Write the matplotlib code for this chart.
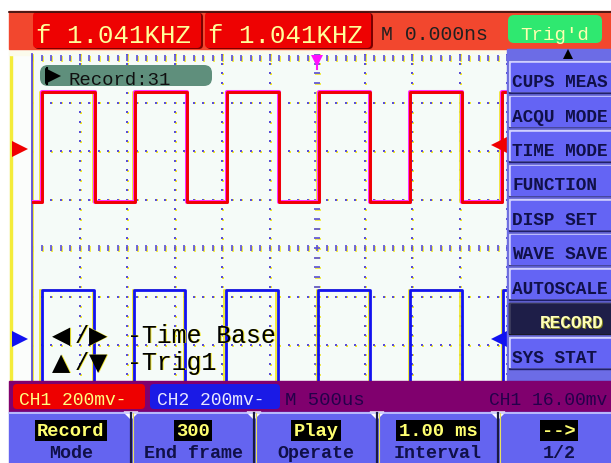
import matplotlib
matplotlib.use("Agg")
import matplotlib.pyplot as plt
import matplotlib.transforms as mtransforms
from matplotlib.patches import Rectangle, FancyBboxPatch, Polygon
import numpy as np

# ---------------- data ----------------
time_per_div_ms = 0.5
volt_per_div_mv = 200
x_divs = 12
y_divs = 8

ch1_edges_ms = [-2.895, -2.337, -1.916, -1.368, -0.947, -0.400, 0.021, 0.558, 0.979, 1.526, 1.947, 2.49]
ch1_levels_mv = [190, 643]          # low, high (screen position)
ch2_edges_ms = [-2.895, -2.347, -1.926, -1.389, -0.958, -0.411, 0.011, 0.558, 0.979, 1.526, 1.958, 2.50]
ch2_levels_mv = [-620, -173]
ch1_offset_mv = 408
ch2_offset_mv = -375
ch1_trig_level_mv = 16
trig_time_ms = 0.0

freq_labels = ["f 1.041KHZ", "f 1.041KHZ"]
delay_label = "M 0.000ns"
trig_status = "Trig'd"
side_menu = ["CUPS MEAS", "ACQU MODE", "TIME MODE", "FUNCTION", "DISP SET",
             "WAVE SAVE", "AUTOSCALE", "RECORD", "SYS STAT"]
side_selected = "RECORD"
bottom_top = ["Record", "300", "Play", "1.00 ms", "-->"]
bottom_bot = ["Mode", "End frame", "Operate", "Interval", "1/2"]
record_label = "Record:31"
status_ch1 = "CH1 200mv-"
status_ch2 = "CH2 200mv-"
status_time = "M 500us"
status_trig = "CH1 16.00mv"

# ---------------- figure ----------------
W, H, DPI = 611, 464, 100
fig = plt.figure(figsize=(W / DPI, H / DPI), dpi=DPI, facecolor="white")
MONO = ["Liberation Mono", "DejaVu Sans Mono"]

# background axes (pixel coords)
bg = fig.add_axes([0, 0, 1, 1], zorder=0)
bg.set_xlim(0, W); bg.set_ylim(H, 0); bg.axis("off")
bg.add_patch(Rectangle((9, 50), 23, 332, color="#fbfdfb"))
bg.add_patch(Rectangle((10, 50), 1.6, 332, color="#f4ec3a"))
bg.add_patch(Rectangle((9, 50), 500, 6, color="#fbfbec"))

# main graticule axes
gx0, gx1, gy0, gy1 = 32, 602, 55, 443
ax = fig.add_axes([gx0 / W, 1 - gy1 / H, (gx1 - gx0) / W, (gy1 - gy0) / H], zorder=1)
ax.set_facecolor("#f5fbf8")
xmax = x_divs / 2 * time_per_div_ms
ymax = y_divs / 2 * volt_per_div_mv
ax.set_xlim(-xmax, xmax); ax.set_ylim(-ymax, ymax)
for s in ax.spines.values():
    s.set_visible(False)
ax.set_xticks([]); ax.set_yticks([])

sh = mtransforms.offset_copy(ax.transData, fig=fig, x=1.2, y=-0.6, units="dots")
shl = mtransforms.offset_copy(ax.transData, fig=fig, x=-1.5, y=0, units="dots")
dotc = "#5a4fd6"; yel = "#f0e830"

# dotted grid
xs_minor = np.arange(-xmax, xmax + 1e-9, time_per_div_ms / 5)
ys_minor = np.arange(-ymax, ymax + 1e-9, volt_per_div_mv / 5)
for k in range(1, x_divs):
    xv = -xmax + k * time_per_div_ms
    if abs(xv) < 1e-9:
        continue
    for tr, c in ((sh, yel), (ax.transData, dotc)):
        ax.plot(np.full_like(ys_minor, xv), ys_minor, ls="none", marker="s",
                ms=1.5, mew=0, color=c, transform=tr)
for k in range(1, y_divs):
    yv = -ymax + k * volt_per_div_mv
    if abs(yv) < 1e-9:
        continue
    for tr, c in ((sh, yel), (ax.transData, dotc)):
        ax.plot(xs_minor, np.full_like(xs_minor, yv), ls="none", marker="s",
                ms=1.5, mew=0, color=c, transform=tr)
# center lines with dashes
for tr, c in ((sh, yel), (ax.transData, dotc)):
    ax.plot(np.zeros_like(ys_minor), ys_minor, ls="none", marker="_", ms=4, mew=1.2,
            color=c, transform=tr)
    ax.plot(xs_minor, np.zeros_like(xs_minor), ls="none", marker="|", ms=4, mew=1.2,
            color=c, transform=tr)
# left border and top border with ticks
for tr, c in ((sh, yel), (ax.transData, dotc)):
    ax.plot([-xmax, -xmax], [-ymax, ymax], color=c, lw=1.3, transform=tr, clip_on=False)
    ax.plot(np.full_like(ys_minor, -xmax), ys_minor, ls="none", marker=0, ms=4, mew=1.2,
            color=c, transform=tr)
    ax.plot(xs_minor, np.full_like(xs_minor, ymax - 5), ls="none", marker=3, ms=4,
            mew=1.2, color=c, transform=tr)


def step_wave(edges, levels):
    t = [-xmax] + list(edges) + [xmax]
    v = []
    for i in range(len(t) - 1):
        v.append(levels[1] if i % 2 == 1 else levels[0])
    v.append(v[-1])
    return t, v

t1, v1 = step_wave(ch1_edges_ms, ch1_levels_mv)
t2, v2 = step_wave(ch2_edges_ms, ch2_levels_mv)
ax.step(t1, v1, where="post", color=yel, lw=1.3, transform=shl, zorder=3)
ax.step(t1, v1, where="post", color="#ff30ff", lw=2.9, zorder=4)
ax.step(t1, v1, where="post", color="#f00000", lw=2.1, zorder=5)
ax.step(t2, v2, where="post", color=yel, lw=1.3, transform=shl, zorder=3)
ax.step(t2, v2, where="post", color="#1212f0", lw=2.0, zorder=5)

# channel markers
px_ms = time_per_div_ms / 47.5
ax.plot([-xmax - 12.5 * px_ms], [ch1_offset_mv], marker=">", ms=11, color="#f00000",
        clip_on=False, zorder=6, mew=0)
ax.plot([-xmax - 12.5 * px_ms], [ch2_offset_mv], marker=">", ms=11, color="#1212f0",
        clip_on=False, zorder=6, mew=0)
ax.plot([xmax - 103 * px_ms], [ch1_offset_mv + ch1_trig_level_mv], marker="<", ms=11,
        color="#f00000", zorder=6, mew=0)
ax.plot([xmax - 103 * px_ms], [ch2_offset_mv], marker="<", ms=11,
        color="#1212f0", zorder=6, mew=0)
ax.plot([trig_time_ms], [ymax - 30], marker="v", ms=9, color="#ff10ff", zorder=6,
        clip_on=False, mew=0)
ax.plot([trig_time_ms, trig_time_ms], [ymax - 40, ymax - 62], color="#ff10ff", lw=1.5, zorder=6)

# ---------------- overlay (pixel coords) ----------------
ov = fig.add_axes([0, 0, 1, 1], zorder=2)
ov.set_xlim(0, W); ov.set_ylim(H, 0); ov.axis("off"); ov.patch.set_alpha(0)


def txt(x, y, s, size, color, ha="left", weight="bold", shadow=None, fam=None, **kw):
    if shadow:
        ov.text(x + 1, y + 0.5, s, fontsize=size, color=shadow, ha=ha, va="baseline",
                family=fam or MONO, fontweight=weight, **kw)
    ov.text(x, y, s, fontsize=size, color=color, ha=ha, va="baseline",
            family=fam or MONO, fontweight=weight, **kw)

# top bar
ov.add_patch(Rectangle((9, 12), W - 9, 38, color="#f2472e"))
ov.plot([9, W], [12.5, 12.5], color="#301010", lw=1.2)
for i, (x0, x1) in enumerate([(33, 203), (205, 373)]):
    ov.add_patch(FancyBboxPatch((x0 + 1.5, 14), x1 - x0 - 1.5, 36,
                                boxstyle="round,pad=0,rounding_size=4",
                                fc="#7a0000", ec="none"))
    ov.add_patch(FancyBboxPatch((x0, 13), x1 - x0 - 2, 36,
                                boxstyle="round,pad=0,rounding_size=4",
                                fc="#ee0202", ec="none"))
    txt(x0 + 3, 43, freq_labels[i], 18.5, "#ffff9a", weight="normal")
txt(381, 40, delay_label, 14.3, "#202020", weight="normal")
ov.add_patch(FancyBboxPatch((508, 16), 94, 28, boxstyle="round,pad=0,rounding_size=6",
                            fc="#2fe870", ec="none"))
txt(555, 40, trig_status, 13.8, "#ffffb0", ha="center", weight="normal")

# side menu
ov.add_patch(Rectangle((507, 50), W - 507, 332, color="#6c6ce6"))
ov.plot([568], [55], marker="^", ms=7, color="black", mew=0)
for i, name in enumerate(side_menu):
    top = 62 + i * 34.5
    sel = name == side_selected
    ov.add_patch(Rectangle((509, top), W - 509, 31.5, color="#101010" if sel else "#20206a"))
    ov.add_patch(Rectangle((509, top), W - 509, 30, color="#d0d0ff" if not sel else "#404060"))
    ov.add_patch(Rectangle((510.5, top + 1.5), W - 510.5, 28.5,
                           color="#1e1e48" if sel else "#6464f4"))
    if sel:
        txt(572, top + 25, name, 12.8, "#ffffb8", ha="center", shadow="#808020")
    else:
        txt(512, top + 25, name, 12.8, "#101048")

# status bar
ov.add_patch(Rectangle((9, 382), W - 9, 31, color="#80006e"))
ov.add_patch(FancyBboxPatch((13, 385), 132, 25, boxstyle="round,pad=0,rounding_size=4",
                            fc="#ee0000", ec="none"))
ov.add_patch(FancyBboxPatch((150, 385), 130, 25, boxstyle="round,pad=0,rounding_size=4",
                            fc="#1a1ae6", ec="none"))
txt(19, 405, status_ch1, 13, "#ffff80", weight="normal")
txt(157, 405, status_ch2, 13, "#e8e8ff", weight="normal")
txt(285, 405, status_time, 13.7, "#24004a", weight="normal")
txt(489, 405, status_trig, 13.0, "#24004a", weight="normal")

# bottom menu
ov.add_patch(Rectangle((9, 413), W - 9, H - 413, color="#6464f0"))
ov.plot([9, W], [413.5, 413.5], color="#c8c8ff", lw=1.2)
seps = [131, 254, 377, 498]
for sx in seps:
    ov.plot([sx, sx], [414, H], color="#1a1a40", lw=1.6)
    ov.plot([sx + 1.5, sx + 1.5], [414, H], color="#e8e060", lw=0.8)
    ov.add_patch(Polygon([[sx - 7, 413], [sx + 7, 413], [sx, 420]], closed=True,
                         color="white"))
centers = [71, 193, 316, 438, 559]
for cx, a, b in zip(centers, bottom_top, bottom_bot):
    ov.text(cx, 436, a, fontsize=13.5, color="#ffff70", ha="center", va="baseline",
            family=MONO, fontweight="bold",
            bbox=dict(boxstyle="square,pad=0.12", fc="black", ec="none"))
    txt(cx, 458.5, b, 13.2, "#101048", ha="center")

# record label
ov.add_patch(FancyBboxPatch((40, 66), 172, 21, boxstyle="round,pad=0,rounding_size=8",
                            fc="#5f8f7c", ec="none"))
ov.plot([53], [76.5], marker=">", ms=12, color="black", mew=0)
ov.plot([46.5, 46.5], [68.5, 84.5], color="black", lw=1.5)
txt(69, 85, record_label, 13.6, "#101010", weight="normal")

# help text
for (y, sym_a, sym_b, label) in [(343, "\u25c0", "\u25b6", "-Time Base"),
                                 (370, "\u25b2", "\u25bc", "-Trig1")]:
    txt(52, y, sym_a, 17, "black", weight="normal", shadow=yel, fam=["DejaVu Sans"])
    txt(75, y, "/", 17, "black", weight="normal", shadow=yel)
    txt(89, y, sym_b, 17, "black", weight="normal", shadow=yel, fam=["DejaVu Sans"])
    txt(127, y, label, 17.9, "black", weight="normal", shadow=yel)

fig.savefig("out.png", dpi=DPI, facecolor="white")
